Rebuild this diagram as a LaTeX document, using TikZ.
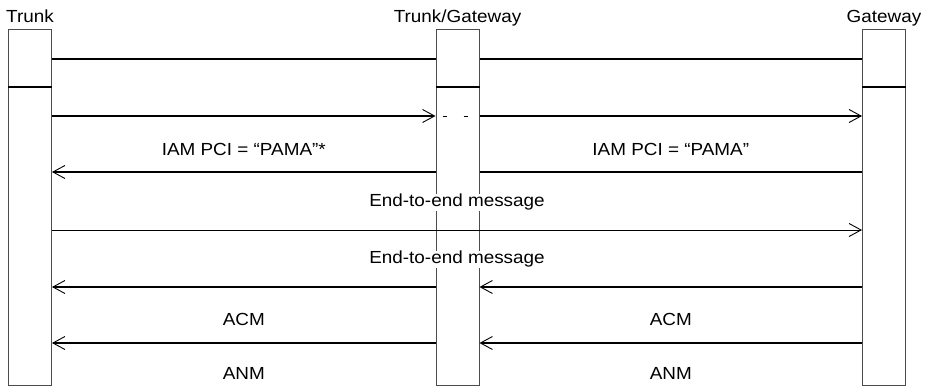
\documentclass[tikz,border=0pt]{standalone}
\usepackage{fontspec}
\setmainfont{Liberation Sans}[FakeStretch=1.08]
\usetikzlibrary{arrows.meta,positioning}
\tikzset{
>={Straight Barb[length=12pt,width=13pt,line width=0.9pt]},
every node/.style={font=\fontsize{17.5}{20}\selectfont, inner sep=1pt},
}

\begin{document}
\begin{tikzpicture}
    [x=1pt, y=-1pt,
    entity/.style={draw=black!70, line width=1pt, minimum width=43pt, minimum height=355pt, inner sep=0pt},
    msg/.style={line width=1.6pt},
    thinmsg/.style={line width=0.8pt},
    lbl/.style={anchor=base},
    mlbl/.style={anchor=base, fill=white, inner sep=0pt}
    ]
    \useasboundingbox (0,0) rectangle (926,387);

    \node [entity] (trunk) at (30,207.5) {};
    \node [entity] (tg) at (457.5,207.5) {};
    \node [entity] (gw) at (884,207.5) {};

    \node [lbl] (trunklbl) at ([yshift=7pt]trunk.north) {Trunk};
    \node [lbl] (tglbl) at ([yshift=7pt]tg.north) {Trunk/Gateway};
    \node [lbl] (gwlbl) at ([yshift=7pt]gw.north) {Gateway};

    \coordinate (top) at (0,59);
    \coordinate (div) at (0,87);
    \coordinate (iam) at (0,116);
    \coordinate (pci) at (0,172);
    \coordinate (ete1) at (0,230);
    \coordinate (ete2) at (0,287);
    \coordinate (acm) at (0,343);
    \coordinate (anm) at (0,379);

    \draw[msg] (trunk.east |- top) -- (tg.west |- top);
    \draw[msg] (tg.east |- top) -- (gw.west |- top);
    \draw[msg] (trunk.west |- div) -- (trunk.east |- div);
    \draw[msg] (tg.west |- div) -- (tg.east |- div);
    \draw[msg] (gw.west |- div) -- (gw.east |- div);

    \draw[msg, ->] (trunk.east |- iam) -- (tg.west |- iam);
    \draw[thinmsg, dash pattern=on 4.5pt off 16.5pt, shorten <=7pt, shorten >=10pt] (tg.west |- iam) -- (tg.east |- iam);
    \draw[msg, ->] (tg.east |- iam) -- (gw.west |- iam);

    \draw[msg, <-] (trunk.east |- pci) -- node[lbl, yshift=16pt] {IAM PCI = “PAMA”*} (tg.west |- pci);
    \draw[msg] (tg.east |- pci) -- node[lbl, yshift=16pt] {IAM PCI = “PAMA”} (gw.west |- pci);

    \draw[thinmsg, ->] (trunk.east |- ete1) -- node[mlbl, yshift=23pt] {End-to-end message} (gw.west |- ete1);

    \path (trunk.east |- ete2) -- node[mlbl, yshift=23pt] {End-to-end message} (gw.west |- ete2);
    \draw[msg, <-] (trunk.east |- ete2) -- (tg.west |- ete2);
    \draw[msg, <-] (tg.east |- ete2) -- (gw.west |- ete2);

    \draw[msg, <-] (trunk.east |- acm) -- node[lbl, yshift=18pt] {ACM} (tg.west |- acm);
    \draw[msg, <-] (tg.east |- acm) -- node[lbl, yshift=18pt] {ACM} (gw.west |- acm);

    \path (trunk.east |- anm) -- node[lbl] {ANM} (tg.west |- anm);
    \path (tg.east |- anm) -- node[lbl] {ANM} (gw.west |- anm);

\end{tikzpicture}
\end{document}
